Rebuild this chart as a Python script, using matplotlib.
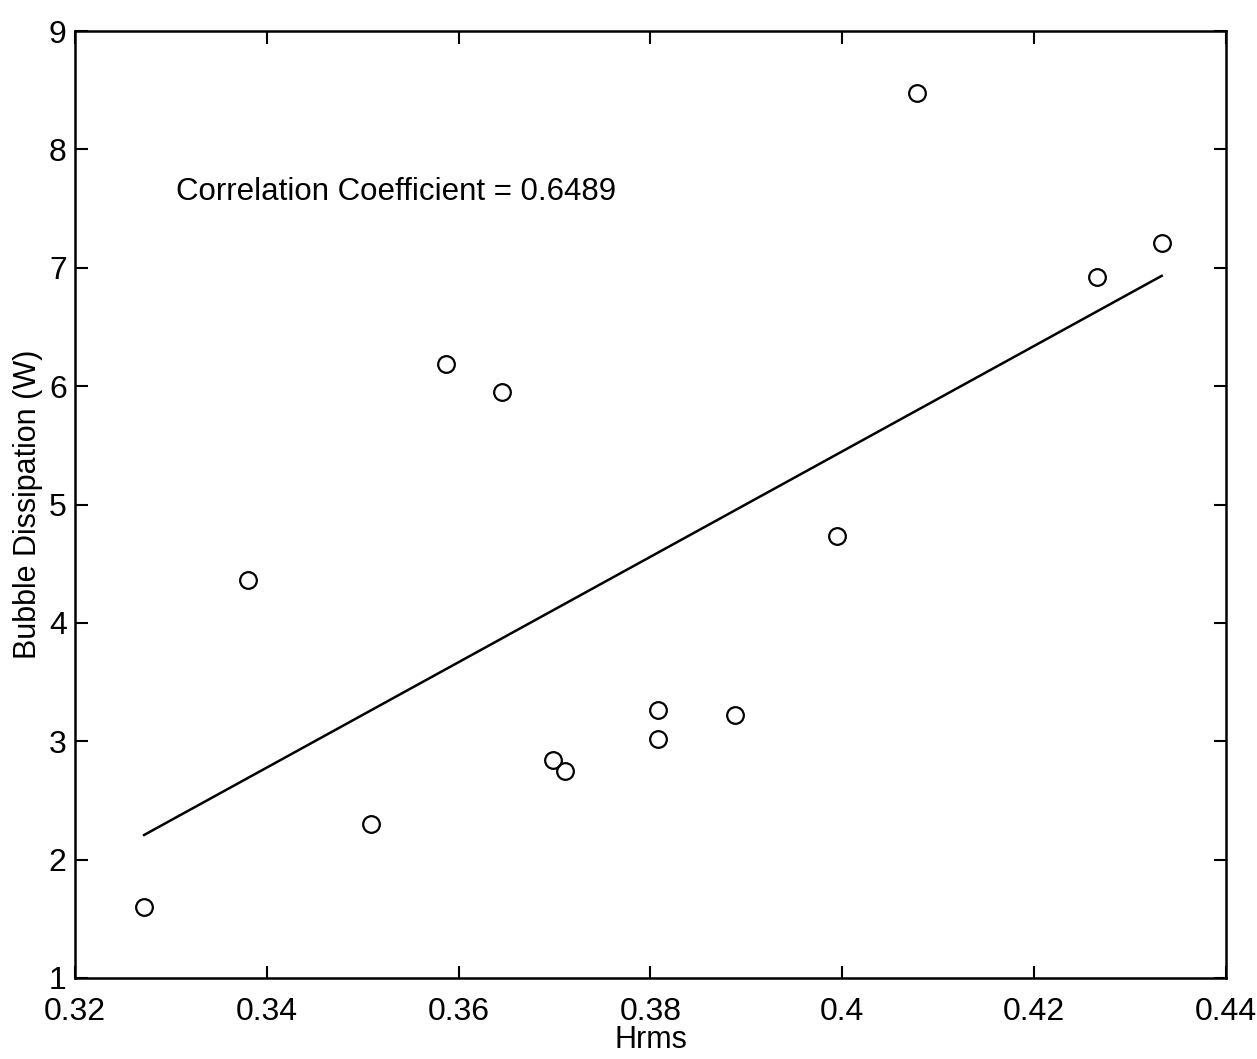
import numpy as np
import matplotlib
matplotlib.use("Agg")
import matplotlib.pyplot as plt

plt.rcParams['font.family'] = ['Liberation Sans', 'DejaVu Sans']

# Measured wave height and bubble dissipation
hrms = [0.3272, 0.3380, 0.3509, 0.3587, 0.3645, 0.3698, 0.3711,
        0.3808, 0.3808, 0.3888, 0.3994, 0.4078, 0.4266, 0.4333]
dissipation = [1.60, 4.36, 2.30, 6.19, 5.95, 2.84, 2.75,
               3.26, 3.02, 3.22, 4.73, 8.48, 6.92, 7.21]

x_ticks = [0.32, 0.34, 0.36, 0.38, 0.40, 0.42, 0.44]
x_tick_labels = ['0.32', '0.34', '0.36', '0.38', '0.4', '0.42', '0.44']
y_ticks = [1, 2, 3, 4, 5, 6, 7, 8, 9]
annotation = 'Correlation Coefficient = 0.6489'

x = np.array(hrms)
y = np.array(dissipation)

fig = plt.figure(figsize=(12.57, 10.59), dpi=100)
ax = fig.add_axes([0.0597, 0.0765, 0.9156, 0.8942])

# Least-squares fit across the data range
slope, intercept = np.polyfit(x, y, 1)
xf = np.array([x.min(), x.max()])
ax.plot(xf, slope * xf + intercept, color='black', linewidth=1.8)

ax.plot(x, y, linestyle='none', marker='o', markersize=12,
        markerfacecolor='none', markeredgecolor='black', markeredgewidth=1.6)

ax.set_xlim(0.32, 0.44)
ax.set_ylim(1, 9)
ax.set_xticks(x_ticks)
ax.set_xticklabels(x_tick_labels)
ax.set_yticks(y_ticks)
ax.tick_params(direction='in', length=9, width=1.5, top=True, right=True,
               labelsize=23)
ax.tick_params(axis='x', pad=14)
ax.tick_params(axis='y', pad=6)
for s in ax.spines.values():
    s.set_linewidth(1.8)

ax.set_xlabel('Hrms', fontsize=22, labelpad=-2)
ax.set_ylabel('Bubble Dissipation (W)', fontsize=22, labelpad=4)

ax.text(0.3305, 7.64, annotation, fontsize=22.5, ha='left', va='center')

fig.savefig('out.png', dpi=100)
